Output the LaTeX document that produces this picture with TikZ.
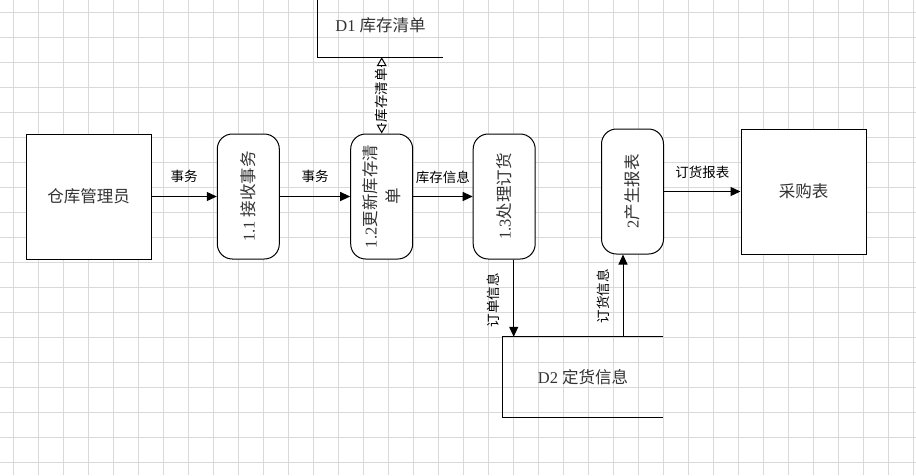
\documentclass[tikz,border=0pt]{standalone}
\usepackage{fontspec}
\setmainfont{Liberation Serif}
\newfontfamily\cjk{Noto Sans CJK SC}
\usetikzlibrary{arrows.meta}
\begin{document}
\begin{tikzpicture}[x=1pt,y=-1pt,
  gridline/.style={draw=black!15, line width=0.8pt},
  box/.style={draw, line width=1pt, fill=white, minimum width=125pt, minimum height=125pt, inner sep=0pt, text=black!80, font=\fontsize{16.5}{20}\selectfont},
  proc/.style={draw, line width=1pt, fill=white, rounded corners=15pt, minimum width=62pt, minimum height=125pt, inner sep=0pt},
  ptext/.style={rotate=90, align=center, inner sep=0pt, text=black!80, font=\fontsize{16.5}{23}\selectfont},
  store/.style={minimum width=125pt, minimum height=64pt, inner sep=0pt, text=black!80, font=\fontsize{16.5}{20}\selectfont},
  storeline/.style={line width=1pt},
  flow/.style={line width=1pt, -{Triangle[length=10pt,width=9pt]}},
  dbl/.style={line width=1pt, {Triangle[open,length=9pt,width=10pt]}-{Triangle[open,length=9pt,width=10pt]}},
  lab/.style={inner sep=1pt, font=\cjk\fontsize{13.5}{16}\selectfont}
]
\useasboundingbox (0,0) rectangle (916,475);
\fill[white] (0,0) rectangle (916,475);
\foreach \x in {13,38,...,913} \draw[gridline] (\x,0) -- (\x,475);
\foreach \y in {12,37,...,462} \draw[gridline] (0,\y) -- (916,\y);

% external entities
\node[box] (mgr) at (88.5,196.5) {\cjk 仓库管理员};
\node[box] (cg) at (803.5,191.5) {\cjk 采购表};

% processes
\node[proc] (p11) at (248.3,196.5) {};
\node[ptext] (t11) at (p11.center) {1.1 {\cjk 接收事务}};
\node[proc] (p12) at (381.7,196.5) {};
\node[ptext] (t12) at (p12.center) {1.2{\cjk 更新库存清}\\{\cjk 单}};
\node[proc] (p13) at (504.2,196.5) {};
\node[ptext] (t13) at (p13.center) {1.3{\cjk 处理订货}};
\node[proc] (p2) at (632.5,191.5) {};
\node[ptext] (t2) at (p2.center) {2{\cjk 产生报表}};

% data stores
\node[store] (d1) at (380.5,25) {D1 {\cjk 库存清单}};
\draw[storeline] (d1.north west) -- (d1.south west) -- (d1.south east);
\node[store, minimum width=160pt, minimum height=80pt] (d2) at (583,377) {D2 {\cjk 定货信息}};
\draw[storeline] (d2.north east) -- (d2.north west) -- (d2.south west) -- (d2.south east);

% flows
\draw[flow] (mgr.east) -- (p11.west) node[lab, midway, yshift=20pt] (l1) {事务};
\draw[flow] (p11.east) -- (p12.west) node[lab, midway, yshift=20pt] (l2) {事务};
\draw[flow] (p12.east) -- (p13.west) node[lab, midway, yshift=19pt] (l3) {库存信息};
\draw[flow] (p2.east) -- (cg.west) node[lab, midway, yshift=19pt] (l4) {订货报表};
\draw[flow] ([xshift=9.5pt]p13.south) -- ([xshift=9.5pt]p13.south |- d2.north);
\node[lab, rotate=90] (l5) at (493,300) {订单信息};
\draw[flow] ([xshift=-9.5pt]p2.south |- d2.north) -- ([xshift=-9.5pt]p2.south);
\node[lab, rotate=90] (l6) at (603,296) {订货信息};
\draw[dbl] (p12.north) -- (p12.north |- d1.south) node[lab, midway, rotate=90, fill=white] (l7) {库存清单};
\end{tikzpicture}
\end{document}
